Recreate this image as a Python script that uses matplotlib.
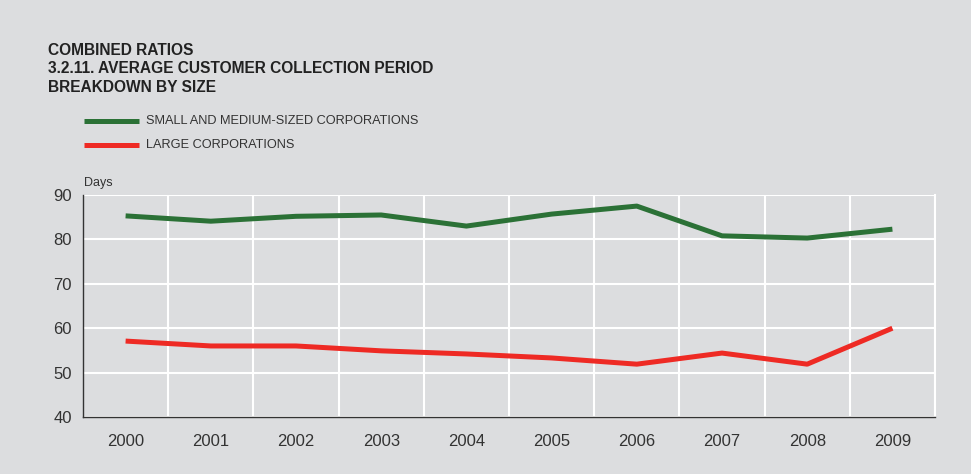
import matplotlib
matplotlib.use("Agg")
import matplotlib.pyplot as plt
from matplotlib.ticker import MultipleLocator, FixedLocator

years = ["2000", "2001", "2002", "2003", "2004", "2005", "2006", "2007", "2008", "2009"]
sme = [85.3, 84.1, 85.2, 85.5, 83.0, 85.7, 87.5, 80.8, 80.3, 82.3]
large = [57.1, 56.0, 56.0, 54.9, 54.2, 53.3, 51.9, 54.4, 51.9, 60.0]
series_labels = ["SMALL AND MEDIUM-SIZED CORPORATIONS", "LARGE CORPORATIONS"]

plt.rcParams['font.family'] = ['Liberation Sans', 'DejaVu Sans']
bg = "#dcdddf"
green = "#2b7136"
red = "#ee2a24"
txt = "#333333"

fig = plt.figure(figsize=(9.71, 4.74), dpi=100, facecolor=bg)
W, H = 971, 474
ax = fig.add_axes([83 / W, 1 - 417 / H, (935 - 83) / W, (417 - 195) / H])
ax.set_facecolor(bg)

x = list(range(len(years)))
ax.plot(x, sme, color=green, lw=3.6, solid_capstyle='butt', zorder=3)
ax.plot(x, large, color=red, lw=3.6, solid_capstyle='butt', zorder=3)

ax.set_xlim(-0.5, len(years) - 0.5)
ax.set_ylim(40, 90)
ax.set_xticks(x)
ax.set_xticklabels(years)
ax.xaxis.set_minor_locator(FixedLocator([i + 0.5 for i in range(len(years))]))
ax.yaxis.set_major_locator(MultipleLocator(10))
ax.grid(which='minor', axis='x', color='white', lw=1.5, zorder=1)
ax.grid(which='major', axis='y', color='white', lw=1.5, zorder=1)
ax.tick_params(axis='both', which='both', length=0, labelsize=12, labelcolor=txt)
ax.tick_params(axis='x', pad=12)
ax.tick_params(axis='y', pad=8)
ax.spines['top'].set_visible(False)
ax.spines['right'].set_color('white')
ax.spines['right'].set_linewidth(1.5)
for s in ['left', 'bottom']:
    ax.spines[s].set_color('#333333')
    ax.spines[s].set_linewidth(1.0)

fig.text(84 / W, 1 - 183 / H, "Days", fontsize=9, color=txt, va='center', ha='left')

fig.text(48 / W, 1 - 43 / H, "COMBINED RATIOS\n3.2.11. AVERAGE CUSTOMER COLLECTION PERIOD\nBREAKDOWN BY SIZE",
         fontsize=11.2, fontweight='bold', color='#222222', va='top', ha='left', linespacing=1.29)

for yy, col, lab in [(121, green, series_labels[0]), (145, red, series_labels[1])]:
    fig.add_artist(plt.Line2D([84 / W, 139 / W], [1 - yy / H, 1 - yy / H], color=col, lw=3.6,
                              solid_capstyle='butt', transform=fig.transFigure))
    fig.text(146 / W, 1 - yy / H, lab, fontsize=9.2, color=txt, va='center', ha='left')

fig.savefig("out.png", dpi=100, facecolor=bg)
